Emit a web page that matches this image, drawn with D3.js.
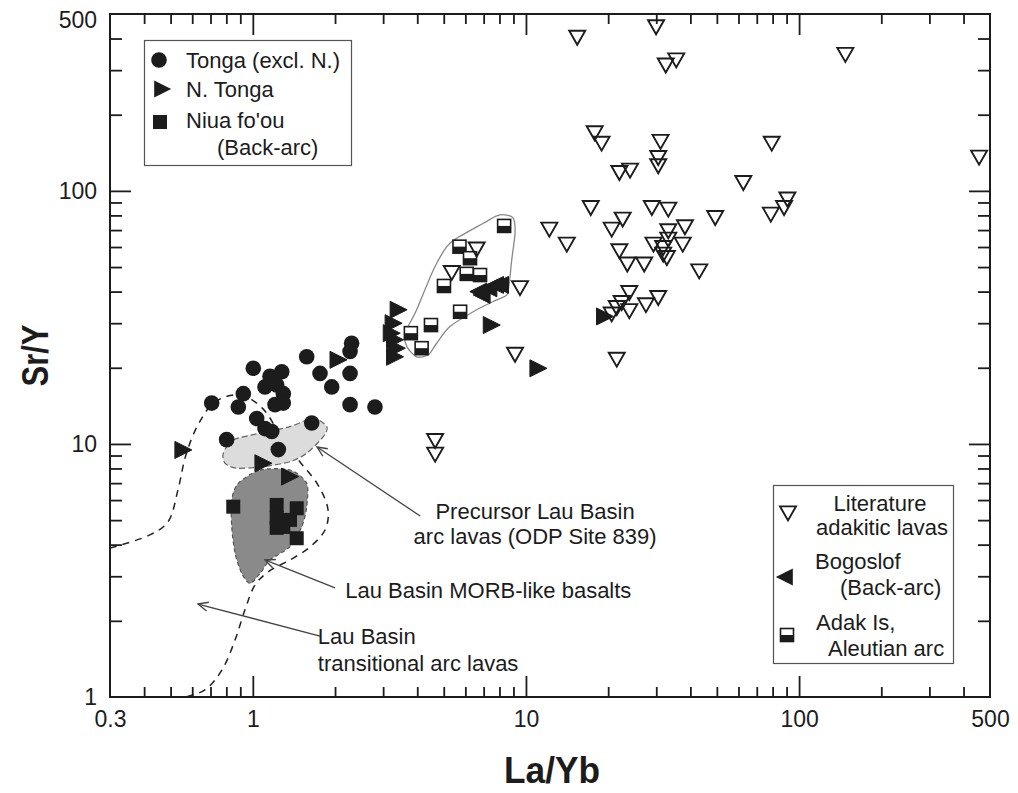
<!DOCTYPE html>
<html><head><meta charset="utf-8">
<script src="https://cdn.jsdelivr.net/npm/d3@7"></script>
<style>
body{margin:0;background:#fff;}
svg text{font-family:"Liberation Sans",Arial,Helvetica,sans-serif;fill:#1c1c1c;}
</style></head><body>
<svg id="chart" width="1018" height="793"></svg>
<script>
// ---------- DATA ----------
const xLabelTicks = [0.3, 1, 10, 100, 500];
const xLabelText = ["0.3", "1", "10", "100", "500"];
const xMajorTicks = [1, 10, 100];
const xMinorTicks = [0.4,0.5,0.6,0.7,0.8,0.9,2,3,4,5,6,7,8,9,20,30,40,50,60,70,80,90,200,300,400];
const yLabelTicks = [1, 10, 100, 500];
const yLabelText = ["1", "10", "100", "500"];
const yMajorTicks = [10, 100];
const yMinorTicks = [2,3,4,5,6,7,8,9,20,30,40,50,60,70,80,90,200,300,400];

// Tonga (excl. N.)  [La/Yb, Sr/Y]
const tonga = [[1.575,22.1],[2.30,25.0],[2.27,23.2],[1.762,19.0],[1.945,16.8],[2.27,19.0],[2.27,14.3],[2.80,14.0],
  [1.004,19.9],[1.156,18.5],[1.276,19.3],[1.108,16.8],[1.223,17.1],[1.293,15.8],[0.923,15.8],[0.885,14.0],
  [1.206,14.3],[1.293,14.5],[0.707,14.5],[1.033,12.6],[1.108,11.5],[1.173,11.2],[0.802,10.4],[1.643,12.1],[1.240,9.5]];
// N. Tonga
const nTonga = [[0.549,9.47],[1.078,8.39],[1.349,7.43],[2.03,21.5],[3.37,33.9],[3.23,30.0],[3.18,27.4],[3.27,25.8],
  [3.32,23.9],[3.27,22.1],[7.39,29.5],[10.95,19.9],[19.2,31.9]];
// Niua fo'ou (Back-arc)
const niua = [[0.848,5.65],[1.223,5.74],[1.448,5.57],[1.223,5.10],[1.368,5.01],[1.293,4.70],[1.223,4.66],[1.448,4.24]];
// Adak Is, Aleutian arc
const adak = [[8.32,72.7],[5.71,60.2],[6.24,54.2],[6.07,47.0],[6.79,46.5],[5.01,42.1],[5.74,33.3],[4.49,29.5],[3.79,27.4],[4.15,23.9]];
// Bogoslof (Back-arc)
const bogoslof = [[6.79,40.0],[7.39,41.2],[7.82,42.5],[8.15,42.5],[6.98,38.8]];
// Literature adakitic lavas
const literature = [[15.41,408],[29.95,449],[32.5,317],[35.5,332],[147.7,349],[17.85,171],[18.92,155.6],[31.1,158.2],
  [79.4,155.6],[456,137.1],[30.5,136.6],[30.5,126.7],[21.98,119.2],[24.05,121.8],[62.5,108.8],[17.27,86.7],[28.9,86.7],
  [33.2,85.4],[49.3,79.1],[78.8,81.6],[88.1,86.7],[90.6,93.6],[12.18,71.2],[14.11,62.1],[20.6,71.2],[22.6,78.0],
  [38.2,72.7],[33.2,70.1],[33.2,65.0],[29.3,62.1],[31.8,60.2],[37.5,62.1],[31.8,56.7],[32.8,55.0],[21.98,58.5],
  [23.5,51.8],[27.1,51.8],[43.1,48.7],[23.9,40.0],[30.5,38.2],[27.5,35.8],[23.9,33.9],[21.5,34.9],[20.6,32.9],
  [22.4,36.5],[9.51,41.8],[9.12,22.8],[21.5,21.8],[6.60,59.4],[5.35,48.0],[4.65,10.4],[4.65,9.19]];

// Field outlines
const adakField = [[8.38,80.4],[8.99,78.0],[9.12,68.0],[8.87,53.4],[8.70,43.8],[8.51,38.8],[7.82,37.1],[6.60,33.9],
  [5.27,29.1],[4.71,25.0],[4.39,22.5],[3.98,22.1],[3.66,24.3],[3.61,27.4],[3.98,33.9],[4.58,48.7],[5.13,60.2],
  [5.58,65.0],[6.98,74.5],[7.82,79.6]];
const precursorField = [[0.780,9.19],[0.848,10.37],[1.063,11.03],[1.368,11.71],[1.665,12.64],[1.865,11.71],[1.812,10.69],
  [1.575,9.19],[1.368,8.51],[1.093,8.13],[0.873,8.02],[0.791,8.39]];
const morbField = [[0.885,6.99],[1.063,7.89],[1.368,7.89],[1.575,6.99],[1.575,5.65],[1.511,4.71],[1.368,3.93],[1.156,3.48],
  [1.063,3.08],[0.977,2.81],[0.911,3.08],[0.861,3.70],[0.837,4.71],[0.837,6.01]];
const transitionalLine = [[0.300,3.88],[0.420,4.37],[0.489,4.92],[0.532,6.58],[0.569,9.05],[0.630,11.89],[0.727,14.66],
  [0.898,15.62],[1.081,13.88],[1.279,10.56],[1.489,8.49],[1.733,6.88],[1.886,5.48],[1.838,4.57],[1.620,3.92],[1.368,3.48],
  [1.137,3.12],[1.019,2.77],[0.936,2.21],[0.861,1.68],[0.771,1.28],[0.668,1.066],[0.565,1.0]];

// Annotations: arrows [from, to] and labels
const arrows = [[[4.10,5.19],[1.718,9.73]], [[2.00,2.70],[1.108,3.48]], [[1.762,1.74],[0.630,2.33]]];
const annotations = [
  {x:10.8, y:5.40, anchor:"middle", text:"Precursor Lau Basin"},
  {x:10.8, y:4.30, anchor:"middle", text:"arc lavas (ODP Site 839)"},
  {x:2.18, y:2.65, anchor:"start", text:"Lau Basin MORB-like basalts"},
  {x:1.73, y:1.73, anchor:"start", text:"Lau Basin"},
  {x:1.73, y:1.36, anchor:"start", text:"transitional arc lavas"}
];

// ---------- CHART ----------
const svg = d3.select("#chart");
const L = 110, R = 990, T = 14, B = 697;
const x = d3.scaleLog().domain([0.3, 500]).range([L, R]);
const y = d3.scaleLog().domain([1, 500]).range([B, T]);
const ink = "#1c1c1c";

svg.append("rect").attr("width",1018).attr("height",793).attr("fill","#fff");

const defs = svg.append("defs");
defs.append("clipPath").attr("id","plotclip").append("rect")
  .attr("x",L).attr("y",T).attr("width",R-L).attr("height",B-T);
defs.append("marker").attr("id","arrowhead").attr("viewBox","0 0 12 12")
  .attr("refX",11).attr("refY",6).attr("markerWidth",12).attr("markerHeight",12)
  .attr("markerUnits","userSpaceOnUse").attr("orient","auto")
  .append("path").attr("d","M1,1.5 L11,6 L1,10.5").attr("fill","none").attr("stroke","#444").attr("stroke-width",1.4);

const plot = svg.append("g").attr("clip-path","url(#plotclip)");

// Fields
plot.append("path").datum(transitionalLine)
  .attr("d", d3.line().x(d=>x(d[0])).y(d=>y(d[1])).curve(d3.curveCatmullRom.alpha(0.5)))
  .attr("fill","none").attr("stroke","#222").attr("stroke-width",1.5).attr("stroke-dasharray","7,6");

plot.append("path").datum(precursorField)
  .attr("d", d3.line().x(d=>x(d[0])).y(d=>y(d[1])).curve(d3.curveCardinalClosed.tension(0.2)))
  .attr("fill","#dcdcdc").attr("stroke","#666").attr("stroke-width",1.2).attr("stroke-dasharray","6,3");

plot.append("path").datum(morbField)
  .attr("d", d3.line().x(d=>x(d[0])).y(d=>y(d[1])).curve(d3.curveCardinalClosed.tension(0.2)))
  .attr("fill","#8a8a8a").attr("stroke","#555").attr("stroke-width",1.2).attr("stroke-dasharray","4,3");

plot.append("path").datum(adakField)
  .attr("d", d3.line().x(d=>x(d[0])).y(d=>y(d[1])).curve(d3.curveCardinalClosed.tension(0.2)))
  .attr("fill","none").attr("stroke","#888").attr("stroke-width",1.3);

// Symbol shapes (relative to centre)
const triDown = (w,h)=>`M${-w/2},${-h*0.4}L${w/2},${-h*0.4}L0,${h*0.6}Z`;
const triRight = (w,h)=>`M${-w*0.4},${-h/2}L${w*0.6},0L${-w*0.4},${h/2}Z`;
const triLeft = (w,h)=>`M${w*0.4},${-h/2}L${-w*0.6},0L${w*0.4},${h/2}Z`;

function drawCircles(g, data){ g.selectAll(null).data(data).enter().append("circle")
  .attr("cx",d=>x(d[0])).attr("cy",d=>y(d[1])).attr("r",7.8).attr("fill",ink); }
function drawSquares(g, data){ g.selectAll(null).data(data).enter().append("rect")
  .attr("x",d=>x(d[0])-7).attr("y",d=>y(d[1])-7).attr("width",14).attr("height",14).attr("fill",ink); }
function drawAdak(g, data){
  const s = g.selectAll(null).data(data).enter().append("g").attr("transform",d=>`translate(${x(d[0])},${y(d[1])})`);
  s.append("rect").attr("x",-6.5).attr("y",-6.5).attr("width",13).attr("height",13).attr("fill","#fff").attr("stroke",ink).attr("stroke-width",1.6);
  s.append("rect").attr("x",-6.5).attr("y",0).attr("width",13).attr("height",6.5).attr("fill",ink);
}
function drawPaths(g, data, shape, fill){
  g.selectAll(null).data(data).enter().append("path")
   .attr("transform",d=>`translate(${x(d[0])},${y(d[1])})`).attr("d",shape)
   .attr("fill",fill?ink:"none").attr("stroke",ink).attr("stroke-width",fill?1:1.9).attr("stroke-linejoin","miter");
}

const marks = svg.append("g");
drawCircles(marks, tonga);
drawSquares(marks, niua);
drawPaths(marks, nTonga, triRight(17,17), true);
drawAdak(marks, adak);
drawPaths(marks, bogoslof, triLeft(17,17), true);
drawPaths(marks, literature, triDown(16,14), false);

// Arrows and annotations
svg.append("g").selectAll(null).data(arrows).enter().append("line")
  .attr("x1",d=>x(d[0][0])).attr("y1",d=>y(d[0][1])).attr("x2",d=>x(d[1][0])).attr("y2",d=>y(d[1][1]))
  .attr("stroke","#444").attr("stroke-width",1.3).attr("marker-end","url(#arrowhead)");

svg.append("g").selectAll(null).data(annotations).enter().append("text")
  .attr("x",d=>x(d.x)).attr("y",d=>y(d.y)).attr("dy","0.35em").attr("text-anchor",d=>d.anchor)
  .attr("font-size",22).text(d=>d.text);

// Axes
function styleAxis(g){ g.select(".domain").remove(); g.selectAll("line").attr("stroke",ink).attr("stroke-width",1.8); }
// bottom labels
svg.append("g").attr("transform",`translate(0,${B})`)
  .call(d3.axisBottom(x).tickValues(xLabelTicks).tickFormat((d,i)=>xLabelText[i]).tickSizeInner(0).tickSizeOuter(0).tickPadding(14))
  .call(g=>{styleAxis(g); g.selectAll("text").attr("font-size",23).attr("fill",ink).attr("font-family","Liberation Sans, Arial, sans-serif");});
svg.append("g").attr("transform",`translate(0,${B})`)
  .call(d3.axisBottom(x).tickValues(xMajorTicks).tickFormat("").tickSizeInner(-21).tickSizeOuter(0)).call(styleAxis);
svg.append("g").attr("transform",`translate(0,${B})`)
  .call(d3.axisBottom(x).tickValues(xMinorTicks).tickFormat("").tickSizeInner(-10).tickSizeOuter(0)).call(styleAxis);
// top
svg.append("g").attr("transform",`translate(0,${T})`)
  .call(d3.axisTop(x).tickValues(xMajorTicks).tickFormat("").tickSizeInner(-21).tickSizeOuter(0)).call(styleAxis);
svg.append("g").attr("transform",`translate(0,${T})`)
  .call(d3.axisTop(x).tickValues(xMinorTicks).tickFormat("").tickSizeInner(-10).tickSizeOuter(0)).call(styleAxis);
// left labels
svg.append("g").attr("transform",`translate(${L},0)`)
  .call(d3.axisLeft(y).tickValues(yLabelTicks).tickFormat((d,i)=>yLabelText[i]).tickSizeInner(0).tickSizeOuter(0).tickPadding(13))
  .call(g=>{styleAxis(g); g.selectAll("text").attr("font-size",23).attr("fill",ink).attr("font-family","Liberation Sans, Arial, sans-serif")
     .filter(d=>d===500).attr("dy","0.6em");});
svg.append("g").attr("transform",`translate(${L},0)`)
  .call(d3.axisLeft(y).tickValues(yMajorTicks).tickFormat("").tickSizeInner(-21).tickSizeOuter(0)).call(styleAxis);
svg.append("g").attr("transform",`translate(${L},0)`)
  .call(d3.axisLeft(y).tickValues(yMinorTicks).tickFormat("").tickSizeInner(-12).tickSizeOuter(0)).call(styleAxis);
// right
svg.append("g").attr("transform",`translate(${R},0)`)
  .call(d3.axisRight(y).tickValues(yMajorTicks).tickFormat("").tickSizeInner(-21).tickSizeOuter(0)).call(styleAxis);
svg.append("g").attr("transform",`translate(${R},0)`)
  .call(d3.axisRight(y).tickValues(yMinorTicks).tickFormat("").tickSizeInner(-12).tickSizeOuter(0)).call(styleAxis);

// frame
svg.append("rect").attr("x",L).attr("y",T).attr("width",R-L).attr("height",B-T)
  .attr("fill","none").attr("stroke",ink).attr("stroke-width",2);

// axis titles
svg.append("text").attr("x",(L+R)/2+2).attr("y",783).attr("text-anchor","middle")
  .attr("font-size",36).attr("font-weight","bold").attr("textLength",96).attr("lengthAdjust","spacingAndGlyphs").text("La/Yb");
svg.append("text").attr("transform",`translate(48,${(T+B)/2})rotate(-90)`).attr("text-anchor","middle")
  .attr("font-size",36).attr("font-weight","bold").attr("textLength",62).attr("lengthAdjust","spacingAndGlyphs").text("Sr/Y");

// ---------- LEGENDS ----------
const leg1 = svg.append("g");
leg1.append("rect").attr("x",144.5).attr("y",40.5).attr("width",207).attr("height",125).attr("fill","#fff").attr("stroke","#555").attr("stroke-width",1.2);
leg1.append("circle").attr("cx",159).attr("cy",60).attr("r",7.8).attr("fill",ink);
leg1.append("path").attr("transform","translate(161,89)").attr("d",triRight(17,17)).attr("fill",ink);
leg1.append("rect").attr("x",153).attr("y",115).attr("width",14).attr("height",14).attr("fill",ink);
const l1 = [["Tonga (excl. N.)",186,60],["N. Tonga",186,89],["Niua fo'ou",186,120],["(Back-arc)",217,147]];
leg1.selectAll(null).data(l1).enter().append("text").attr("x",d=>d[1]).attr("y",d=>d[2]).attr("dy","0.35em")
  .attr("font-size",22).text(d=>d[0]);

const leg2 = svg.append("g");
leg2.append("rect").attr("x",773.5).attr("y",485.5).attr("width",180).attr("height",178).attr("fill","#fff").attr("stroke","#555").attr("stroke-width",1.2);
leg2.append("path").attr("transform","translate(788,512)").attr("d",triDown(16,14)).attr("fill","none").attr("stroke",ink).attr("stroke-width",1.9);
leg2.append("path").attr("transform","translate(786,577)").attr("d",triLeft(17,17)).attr("fill",ink);
const ad = leg2.append("g").attr("transform","translate(787,635)");
ad.append("rect").attr("x",-6.5).attr("y",-6.5).attr("width",13).attr("height",13).attr("fill","#fff").attr("stroke",ink).attr("stroke-width",1.6);
ad.append("rect").attr("x",-6.5).attr("y",0).attr("width",13).attr("height",6.5).attr("fill",ink);
const l2 = [["Literature",880,503,"middle"],["adakitic lavas",882,527,"middle"],["Bogoslof",815,561,"start"],
  ["(Back-arc)",840,587,"start"],["Adak Is,",816,622,"start"],["Aleutian arc",828,648,"start"]];
leg2.selectAll(null).data(l2).enter().append("text").attr("x",d=>d[1]).attr("y",d=>d[2]).attr("dy","0.35em")
  .attr("text-anchor",d=>d[3]).attr("font-size",22).text(d=>d[0]);
</script>
</body></html>
